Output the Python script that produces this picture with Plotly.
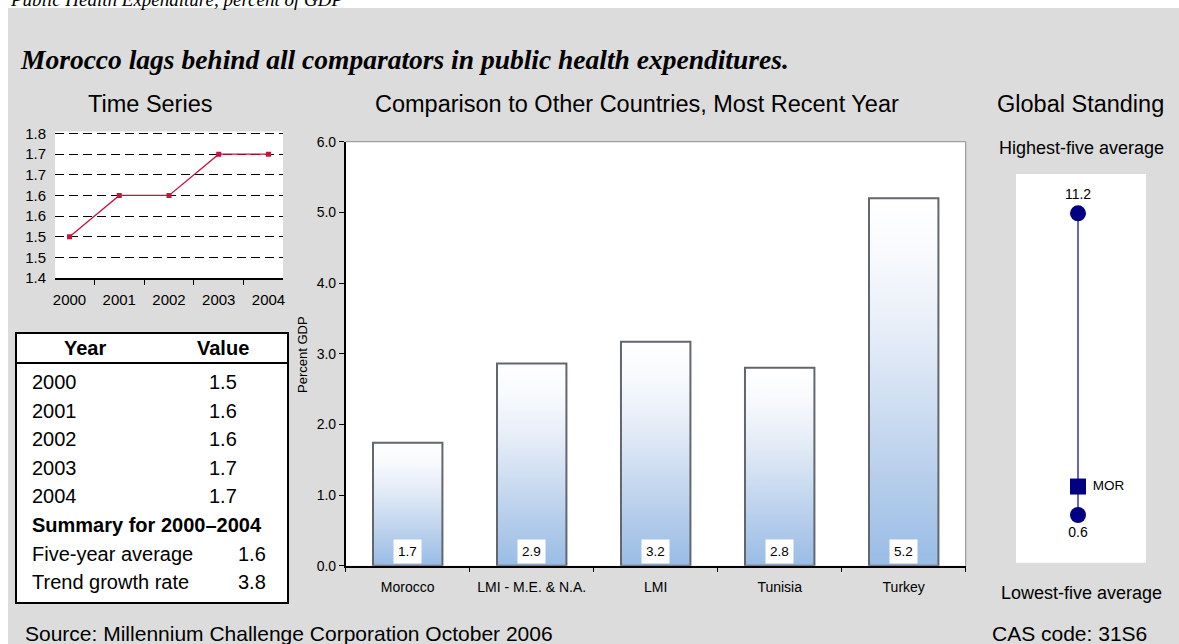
import base64
import plotly.graph_objects as go

# ---- data -------------------------------------------------------------
years = ["2000", "2001", "2002", "2003", "2004"]
ts_values = [1.5, 1.6, 1.6, 1.7, 1.7]
ts_tickvals = [1.40, 1.45, 1.50, 1.55, 1.60, 1.65, 1.70, 1.75]
ts_ticktext = ["1.4", "1.5", "1.5", "1.6", "1.6", "1.7", "1.7", "1.8"]

five_year_avg = 1.6
trend_growth = 3.8

countries = ["Morocco", "LMI - M.E. & N.A.", "LMI", "Tunisia", "Turkey"]
country_values = [1.74, 2.86, 3.17, 2.80, 5.20]

highest_five = 11.2
lowest_five = 0.6
mor_value = 1.6

# ---- page geometry helpers (pixel -> paper) ---------------------------
W, H = 1179, 644


def px(x):
    return x / W


def py(y):
    return 1 - y / H


SANS = "Liberation Sans, Arial, sans-serif"
SERIF = "Liberation Serif, Times New Roman, serif"
GRAY_BG = "#dcdcdc"
NAVY = "#000080"

fig = go.Figure()

# ---- time series ------------------------------------------------------
fig.add_trace(go.Scatter(
    x=years, y=ts_values, mode="lines+markers",
    line=dict(color="#c8143c", width=1.3),
    marker=dict(symbol="square", size=5, color="#c8143c"),
    xaxis="x", yaxis="y", showlegend=False, hoverinfo="skip",
))

# ---- comparison bars --------------------------------------------------
BAR_W = 0.56
fig.add_trace(go.Bar(
    x=countries, y=country_values, width=BAR_W,
    marker=dict(color="rgba(0,0,0,0)", line=dict(color="#62676f", width=2)),
    xaxis="x2", yaxis="y2", showlegend=False, hoverinfo="skip",
))

grad_svg = (
    '<svg xmlns="http://www.w3.org/2000/svg" width="10" height="100" '
    'viewBox="0 0 10 100" preserveAspectRatio="none">'
    '<defs><linearGradient id="g" x1="0" y1="0" x2="0" y2="1">'
    '<stop offset="0" stop-color="#ffffff"/>'
    '<stop offset="0.15" stop-color="#f8fafd"/>'
    '<stop offset="0.35" stop-color="#e8eef8"/>'
    '<stop offset="0.55" stop-color="#d0dff2"/>'
    '<stop offset="0.8" stop-color="#b2cbea"/>'
    '<stop offset="1" stop-color="#99bce6"/>'
    '</linearGradient></defs>'
    '<rect x="0" y="0" width="10" height="100" fill="url(#g)"/></svg>'
)
grad_uri = "data:image/svg+xml;base64," + base64.b64encode(grad_svg.encode()).decode()

images = []
for i, v in enumerate(country_values):
    images.append(dict(
        source=grad_uri, xref="x2", yref="y2",
        x=i - BAR_W / 2, y=v, sizex=BAR_W, sizey=v,
        xanchor="left", yanchor="top", sizing="stretch", layer="below",
    ))

# ---- global standing --------------------------------------------------
fig.add_trace(go.Scatter(
    x=[0, 0], y=[lowest_five, highest_five], mode="lines",
    line=dict(color="#3434a8", width=1.5),
    xaxis="x3", yaxis="y3", showlegend=False, hoverinfo="skip",
))
fig.add_trace(go.Scatter(
    x=[0], y=[highest_five], mode="markers+text",
    marker=dict(symbol="circle", size=16, color=NAVY),
    text=[f"{highest_five:.1f}"], textposition="top center",
    textfont=dict(family=SANS, size=14, color="black"),
    xaxis="x3", yaxis="y3", showlegend=False, hoverinfo="skip",
))
fig.add_trace(go.Scatter(
    x=[0], y=[lowest_five], mode="markers+text",
    marker=dict(symbol="circle", size=16, color=NAVY),
    text=[f"{lowest_five:.1f}"], textposition="bottom center",
    textfont=dict(family=SANS, size=14, color="black"),
    xaxis="x3", yaxis="y3", showlegend=False, hoverinfo="skip",
))
fig.add_trace(go.Scatter(
    x=[0], y=[mor_value], mode="markers+text",
    marker=dict(symbol="square", size=16, color=NAVY),
    text=[" MOR"], textposition="middle right",
    textfont=dict(family=SANS, size=13.5, color="black"),
    xaxis="x3", yaxis="y3", showlegend=False, hoverinfo="skip",
))

# ---- shapes: page frame, table, chart borders -------------------------
shapes = [
    # white strips above and to the left of the gray panel
    dict(type="rect", xref="paper", yref="paper", x0=0, x1=1, y0=py(8), y1=1,
         fillcolor="white", line=dict(width=0), layer="below"),
    dict(type="rect", xref="paper", yref="paper", x0=0, x1=px(8), y0=0, y1=1,
         fillcolor="white", line=dict(width=0), layer="below"),
    # table box and header rule
    dict(type="rect", xref="paper", yref="paper", x0=px(16), x1=px(288),
         y0=py(603), y1=py(333), fillcolor="white",
         line=dict(color="black", width=2), layer="below"),
    dict(type="line", xref="paper", yref="paper", x0=px(16), x1=px(288),
         y0=py(363), y1=py(363), line=dict(color="black", width=2)),
    # bar chart frame (top and right edges)
    dict(type="line", xref="paper", yref="paper", x0=px(345.7), x1=px(965.7),
         y0=py(141.7), y1=py(141.7), line=dict(color="#8a8a8a", width=1)),
    dict(type="line", xref="paper", yref="paper", x0=px(965.7), x1=px(965.7),
         y0=py(141.7), y1=py(565.7), line=dict(color="#8a8a8a", width=1)),
]

# ---- text -------------------------------------------------------------
ann = []


def text(x, y, s, size, xanchor="center", yanchor="middle", family=SANS,
         weight="normal", style="normal", **kw):
    ann.append(dict(
        xref="paper", yref="paper", x=px(x), y=py(y), text=s, showarrow=False,
        xanchor=xanchor, yanchor=yanchor,
        font=dict(family=family, size=size, color="black", weight=weight, style=style),
        **kw,
    ))


text(8, 12, "Public Health Expenditure, percent of GDP", 19, xanchor="left",
     yanchor="bottom", family=SERIF, style="italic")
text(18, 60, "Morocco lags behind all comparators in public health expenditures.",
     27.5, xanchor="left", family=SERIF, weight="bold", style="italic")
text(150, 104, "Time Series", 23.5)
text(637, 104, "Comparison to Other Countries, Most Recent Year", 23.5)
text(1080, 104, "Global Standing", 23.5)
text(1081, 148, "Highest-five average", 18)
text(1081, 593, "Lowest-five average", 18)
text(23, 633, "Source: Millennium Challenge Corporation October 2006", 21, xanchor="left")
text(1069, 633, "CAS code: 31S6", 21)
text(302, 355, "Percent GDP", 13, textangle=-90)

# table contents
ROW_H = 28.6
text(85, 348, "Year", 20, weight="bold")
text(223, 348, "Value", 20, weight="bold")
for k, (yr, val) in enumerate(zip(years, ts_values)):
    yy = 382 + k * ROW_H
    text(30, yy, yr, 20, xanchor="left")
    text(239, yy, f"{val:.1f}", 20, xanchor="right")
text(30, 382 + 5 * ROW_H, "Summary for 2000\u20132004", 20, xanchor="left", weight="bold")
text(30, 382 + 6 * ROW_H, "Five-year average", 20, xanchor="left")
text(268, 382 + 6 * ROW_H, f"{five_year_avg:.1f}", 20, xanchor="right")
text(30, 382 + 7 * ROW_H, "Trend growth rate", 20, xanchor="left")
text(268, 382 + 7 * ROW_H, f"{trend_growth:.1f}", 20, xanchor="right")

# value boxes at the foot of each bar
for c, v in zip(countries, country_values):
    ann.append(dict(
        xref="x2", yref="y2", x=c, y=0, text=f"{v:.1f}", showarrow=False,
        xanchor="center", yanchor="bottom", yshift=2,
        bgcolor="white", borderpad=4,
        font=dict(family=SANS, size=13.5, color="black"),
    ))

tick_font = dict(family=SANS, size=15, color="black")

fig.update_layout(
    width=W, height=H,
    margin=dict(l=0, r=0, t=0, b=0, pad=0, autoexpand=False),
    paper_bgcolor=GRAY_BG, plot_bgcolor="white",
    showlegend=False,
    shapes=shapes, annotations=ann, images=images,
    xaxis=dict(
        domain=[px(55), px(283)], anchor="y", type="category", tickson="boundaries",
        ticks="outside", ticklen=5, tickcolor="black", showline=True,
        linecolor="black", linewidth=1.5, showgrid=False, tickfont=tick_font,
        ticklabelstandoff=7, automargin=False, fixedrange=True,
    ),
    yaxis=dict(
        domain=[py(278), py(131.5)], anchor="x", range=[1.4, 1.755],
        tickvals=ts_tickvals, ticktext=ts_ticktext, ticks="",
        showgrid=True, gridcolor="black", gridwidth=1, griddash="9px,5px",
        showline=False, zeroline=False, tickfont=tick_font, ticklabelstandoff=8,
        automargin=False, fixedrange=True,
    ),
    xaxis2=dict(
        domain=[px(345.7), px(965.7)], anchor="y2", type="category",
        tickson="boundaries", ticks="outside", ticklen=5, tickcolor="black",
        showline=True, linecolor="black", linewidth=1.5, showgrid=False,
        tickfont=dict(family=SANS, size=14, color="black"),
        ticklabelstandoff=8, automargin=False, fixedrange=True,
    ),
    yaxis2=dict(
        domain=[py(565.7), py(141.7)], anchor="x2", range=[0, 6], dtick=1,
        tickformat=".1f", ticks="outside", ticklen=5, tickcolor="black",
        showline=True, linecolor="black", linewidth=1.5, showgrid=False,
        zeroline=False, tickfont=dict(family=SANS, size=14, color="black"),
        automargin=False, fixedrange=True,
    ),
    xaxis3=dict(
        domain=[px(1016), px(1146)], anchor="y3", range=[-62, 68], showgrid=False,
        zeroline=False, showline=False, showticklabels=False, ticks="",
        automargin=False, fixedrange=True,
    ),
    yaxis3=dict(
        domain=[py(562.7), py(174)], anchor="x3", range=[-1.076, 12.581],
        showgrid=False, zeroline=False, showline=False, showticklabels=False,
        ticks="", automargin=False, fixedrange=True,
    ),
)

fig.write_html("out.html")
